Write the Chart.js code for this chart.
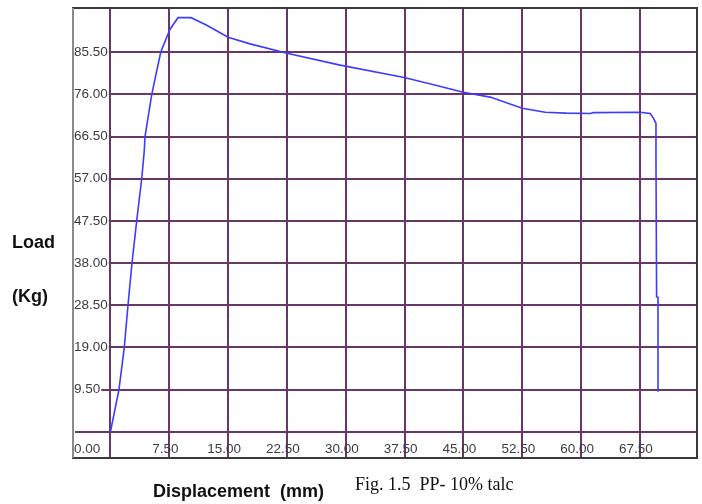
<!DOCTYPE html>
<html>
<head>
<meta charset="utf-8">
<title>Fig. 1.5 PP- 10% talc</title>
<script src="https://cdn.jsdelivr.net/npm/chart.js@4.4.1/dist/chart.umd.min.js"></script>
<style>
  html, body { margin: 0; padding: 0; background: #fff; }
  #wrap { width: 702px; height: 504px; position: relative; }
</style>
</head>
<body>
<div id="wrap"><canvas id="loadChart"></canvas></div>
<script>
// Load vs displacement readings
const displacement = [0, 1.08, 1.76, 2.23, 2.74, 3.34, 3.98, 4.31, 4.40, 5.26, 6.40, 7.59, 8.61, 10.27, 12.27, 14.99, 17.8, 22.51, 29.27, 37.44, 41.2, 44.97, 48.4, 52.49, 55.42, 58.1, 61.16, 61.54, 67.53, 68.81, 69.23, 69.54, 69.54, 69.62, 69.8, 69.8];
const load = [0, 9.5, 19, 28.5, 38, 47.5, 57, 63.4, 66.5, 76, 85.5, 90.7, 93.3, 93.3, 91.6, 88.9, 87.4, 85.3, 82.6, 79.8, 78.2, 76.5, 75.4, 72.9, 72.0, 71.8, 71.7, 71.9, 72.0, 71.7, 70.6, 69.5, 61.2, 30.4, 30.3, 9.0];

// Tick positions
const xTicks = [0, 7.5, 15, 22.5, 30, 37.5, 45, 52.5, 60, 67.5];
const yTicks = [-4, 0, 9.5, 19, 28.5, 38, 47.5, 57, 66.5, 76, 85.5]; // -4 carries the "0.00" label below the zero line

const gridColor = "#6a366a";
const tickFont = { family: "'Liberation Sans', Arial, sans-serif", size: 13.5, lineHeight: 1 };

// Frame and caption texts
const framePlugin = {
  id: "frame",
  afterDraw(chart) {
    const { ctx, chartArea: a } = chart;
    ctx.save();
    ctx.lineWidth = 2;
    ctx.strokeStyle = "#3a3a3a";
    ctx.strokeRect(a.left, a.top, a.right - a.left, a.bottom - a.top);
    ctx.strokeStyle = "#8a8a8a";
    ctx.beginPath();
    ctx.moveTo(a.left, a.top);
    ctx.lineTo(a.left, a.bottom);
    ctx.stroke();

    ctx.fillStyle = "#111";
    ctx.textBaseline = "alphabetic";
    ctx.textAlign = "left";
    ctx.font = "bold 18px 'Liberation Sans', Arial, sans-serif";
    ctx.fillText("Load", 12, 248);
    ctx.fillText("(Kg)", 12, 302);
    ctx.fillText("Displacement  (mm)", 153, 497);
    ctx.font = "18px 'Liberation Serif', 'Times New Roman', serif";
    ctx.fillText("Fig. 1.5  PP- 10% talc", 355, 490);
    ctx.restore();
  }
};

const ctx = document.getElementById("loadChart").getContext("2d");
new Chart(ctx, {
  type: "scatter",
  data: {
    datasets: [{
      label: "PP- 10% talc",
      data: displacement.map((x, i) => ({ x: x, y: load[i] })),
      showLine: true,
      borderColor: "#3c3cff",
      borderWidth: 1.6,
      pointRadius: 0,
      tension: 0
    }]
  },
  options: {
    responsive: true,
    maintainAspectRatio: false,
    animation: false,
    layout: { padding: { left: 73, right: 5, top: 8, bottom: 46 } },
    plugins: {
      legend: { display: false },
      tooltip: { enabled: false }
    },
    scales: {
      x: {
        type: "linear",
        min: -4.78,
        max: 74.77,
        afterBuildTicks: axis => { axis.ticks = xTicks.map(v => ({ value: v })); },
        afterFit: axis => { axis.height = 0; axis.paddingLeft = 0; axis.paddingRight = 0; },
        border: { display: false },
        grid: { color: gridColor, lineWidth: 2, drawTicks: false },
        ticks: {
          mirror: true,
          padding: 1.5,
          labelOffset: -4,
          autoSkip: false,
          maxRotation: 0,
          color: "#3c3c3c",
          font: tickFont,
          callback: v => (v === 0 ? "" : v.toFixed(2))
        }
      },
      y: {
        type: "linear",
        min: -5.93,
        max: 95.48,
        afterBuildTicks: axis => { axis.ticks = yTicks.map(v => ({ value: v })); },
        afterFit: axis => { axis.width = 0; axis.paddingTop = 0; axis.paddingBottom = 0; },
        border: { display: false },
        grid: {
          color: c => (c.tick && c.tick.value < 0 ? "rgba(0,0,0,0)" : gridColor),
          lineWidth: 2,
          drawTicks: false
        },
        ticks: {
          mirror: true,
          padding: 1,
          autoSkip: false,
          color: "#3c3c3c",
          font: tickFont,
          showLabelBackdrop: true,
          backdropColor: "#ffffff",
          backdropPadding: { top: 0, bottom: 0, left: 1, right: 1 },
          callback: v => (v === 0 ? "" : (v < 0 ? "0.00" : v.toFixed(2)))
        }
      }
    }
  },
  plugins: [framePlugin]
});
</script>
</body>
</html>
